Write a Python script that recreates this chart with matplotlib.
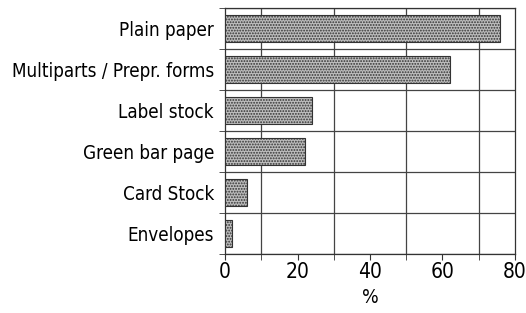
import matplotlib.pyplot as plt
from matplotlib import font_manager

# paper type usage, %
categories = ['Plain paper', 'Multiparts / Prepr. forms', 'Label stock',
              'Green bar page', 'Card Stock', 'Envelopes']
values = [76, 62, 24, 22, 6, 2]

# look for a condensed sans, else plain DejaVu
cond = [f for f in font_manager.fontManager.ttflist
        if 'ondensed' in str(f.stretch) or 'Narrow' in f.name or 'Condensed' in f.name]
if cond:
    fam, stretch = cond[0].name, cond[0].stretch
else:
    fam, stretch = 'DejaVu Sans', 'normal'
plt.rcParams['font.family'] = [fam, 'DejaVu Sans']
plt.rcParams['font.stretch'] = stretch
plt.rcParams['hatch.color'] = '#444444'
plt.rcParams['hatch.linewidth'] = 0.9

fig = plt.figure(figsize=(5.26, 3.13), dpi=100)
ax = fig.add_axes([0.428, 0.188, 0.551, 0.786])

ypos = list(range(len(categories)))[::-1]
ax.barh(ypos, values, height=0.66, color='#bdbdbd', edgecolor='#333333',
        linewidth=0.8, hatch='......', zorder=3)

ax.set_xlim(0, 80)
ax.set_ylim(-0.5, len(categories) - 0.5)
ax.set_xticks(range(0, 81, 20))
ax.set_xticks(range(0, 81, 10), minor=True)
ax.set_yticks(ypos)
ax.set_yticklabels(categories)
ax.set_yticks([y - 0.5 for y in range(len(categories) + 1)], minor=True)
ax.tick_params(axis='y', which='major', length=0, pad=8, labelsize=13.5)
ax.tick_params(axis='y', which='minor', length=4, color='#333333')
ax.tick_params(axis='x', which='both', length=4, color='#333333', labelsize=15, pad=2)
ax.grid(True, which='minor', color='#444444', linewidth=0.9, zorder=0)
for s in ax.spines.values():
    s.set_color('#333333')
    s.set_linewidth(0.9)
ax.set_xlabel('%', fontsize=14, labelpad=4)

fig.savefig('out.png', dpi=100)
